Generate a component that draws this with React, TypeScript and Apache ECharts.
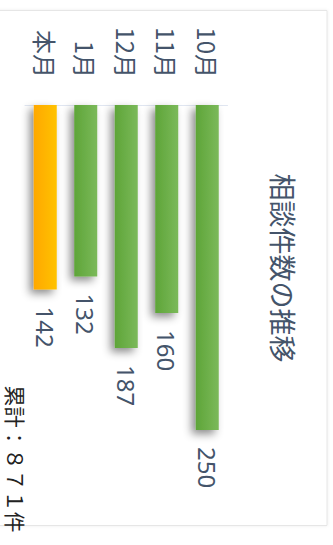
import React, { useEffect, useRef } from "react";
import * as echarts from "echarts";

const categories = ["10月", "11月", "12月", "1月", "本月"];
const values = [250, 160, 187, 132, 142];
const highlight = [false, false, false, false, true];
const titleText = "相談件数の推移";
const totalText = "累計：８７１件";

export default function App() {
  const ref = useRef<HTMLDivElement>(null);
  useEffect(() => {
    const chart = echarts.init(ref.current!, null, { renderer: "svg" });
    const green = new echarts.graphic.LinearGradient(0, 0, 1, 0, [
      { offset: 0, color: "#5ea538" },
      { offset: 1, color: "#7bb95a" },
    ]);
    const orange = new echarts.graphic.LinearGradient(0, 0, 1, 0, [
      { offset: 0, color: "#ffa800" },
      { offset: 1, color: "#ffc200" },
    ]);
    chart.setOption({
      animation: false,
      backgroundColor: "#ffffff",
      graphic: [
        {
          type: "rect",
          z: -10,
          shape: { x: -6, y: 10.5, width: 333, height: 515 },
          style: {
            fill: "#ffffff",
            stroke: "#e6e6e6",
            lineWidth: 1,
            shadowBlur: 3,
            shadowColor: "rgba(0,0,0,0.08)",
          },
        },
        {
          type: "text",
          x: 283,
          y: 268,
          rotation: -Math.PI / 2,
          style: {
            text: titleText,
            fill: "#44546a",
            fontSize: 27,
            fontFamily: "Noto Sans CJK JP",
            align: "center",
            verticalAlign: "middle",
          },
        },
        {
          type: "text",
          x: 16,
          y: 459,
          rotation: -Math.PI / 2,
          style: {
            text: totalText,
            fill: "#222222",
            fontSize: 21,
            fontFamily: "Noto Sans CJK JP",
            align: "center",
            verticalAlign: "middle",
          },
        },
      ],
      grid: { left: 25, top: 105, width: 202.5, height: 390, containLabel: false },
      xAxis: {
        type: "category",
        data: categories,
        inverse: true,
        position: "top",
        axisLine: { lineStyle: { color: "#e0e6f1", width: 1 } },
        axisTick: { show: false },
        axisLabel: {
          rotate: -90,
          margin: 27,
          fontSize: 24,
          color: "#44546a",
          fontFamily: "Noto Sans CJK JP",
        },
      },
      yAxis: {
        type: "value",
        inverse: true,
        min: 0,
        max: 300,
        show: false,
        splitLine: { show: false },
      },
      series: [
        {
          type: "bar",
          barWidth: 23,
          data: values.map((v, i) => ({
            value: v,
            itemStyle: { color: highlight[i] ? orange : green },
          })),
          itemStyle: {
            shadowColor: "rgba(0,0,0,0.45)",
            shadowBlur: 8,
            shadowOffsetX: -4,
            shadowOffsetY: 4,
          },
          label: {
            show: true,
            position: "bottom",
            distance: 17,
            rotate: -90,
            align: "left",
            verticalAlign: "middle",
            fontSize: 24,
            color: "#44546a",
            fontFamily: "Noto Sans",
          },
        },
      ],
    });
    return () => chart.dispose();
  }, []);
  return (
    <div
      ref={ref}
      style={{ position: "fixed", left: 0, top: 0, width: 333, height: 545 }}
    />
  );
}
